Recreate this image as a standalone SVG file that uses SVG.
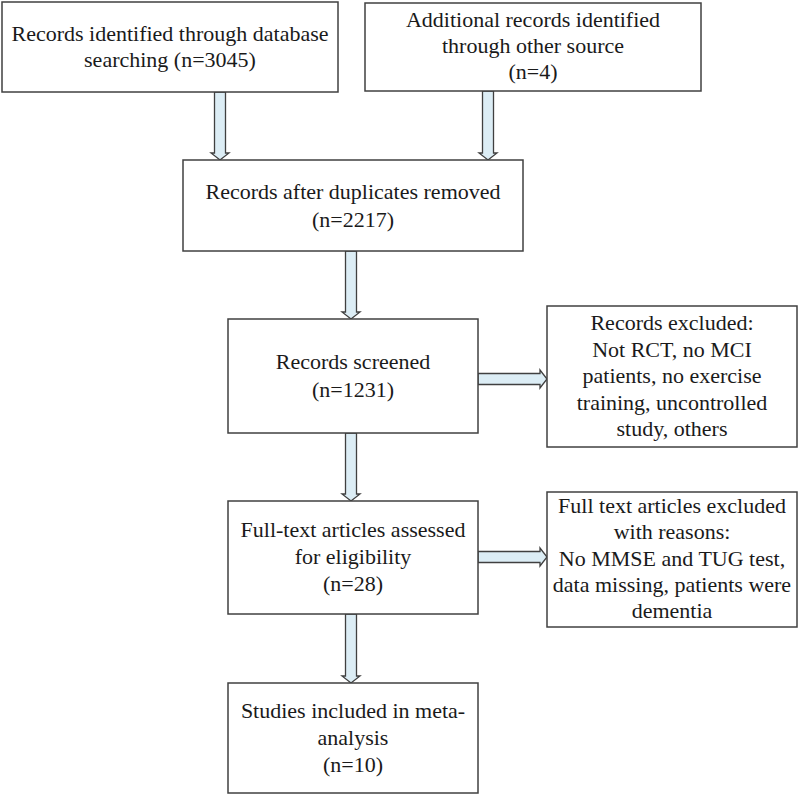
<svg xmlns="http://www.w3.org/2000/svg" width="800" height="795" viewBox="0 0 800 795">
<style>
.box{fill:#ffffff;stroke:#404040;stroke-width:1.5}
.arr{fill:#dcedf5;stroke:#404040;stroke-width:1.3;stroke-linejoin:miter}
text{font-family:"Liberation Serif","Times New Roman",serif;font-size:22px;fill:#1a1a1a;text-anchor:middle}
</style>
<rect width="800" height="795" fill="#ffffff"/>
<g id="connectors">
<polygon class="arr" points="214.5,92 225.5,92 225.5,153 229,153 220,160 211,153 214.5,153"/>
<polygon class="arr" points="482.5,91 493.5,91 493.5,153 497,153 488,160 479,153 482.5,153"/>
<polygon class="arr" points="345.5,251 356.5,251 356.5,312 360,312 351,319 342,312 345.5,312"/>
<polygon class="arr" points="345.5,433 356.5,433 356.5,494 360,494 351,501 342,494 345.5,494"/>
<polygon class="arr" points="345.5,614 356.5,614 356.5,676 360,676 351,683 342,676 345.5,676"/>
<polygon class="arr" points="478,373.5 540,373.5 540,370 547,379 540,388 540,384.5 478,384.5"/>
<polygon class="arr" points="478,551.5 540,551.5 540,548 547,557 540,566 540,562.5 478,562.5"/>
</g>
<g id="n1">
<rect class="box" x="2" y="2" width="336" height="90"/>
<text x="170" y="41">Records identified through database</text>
<text x="170" y="67">searching (n=3045)</text>
</g>
<g id="n2">
<rect class="box" x="365" y="3" width="336" height="88"/>
<text x="533" y="27">Additional records identified</text>
<text x="533" y="53">through other source</text>
<text x="533" y="79">(n=4)</text>
</g>
<g id="n3">
<rect class="box" x="183" y="160" width="340" height="91"/>
<text x="353" y="199">Records after duplicates removed</text>
<text x="353" y="227">(n=2217)</text>
</g>
<g id="n4">
<rect class="box" x="228" y="319" width="250" height="114"/>
<text x="353" y="369">Records screened</text>
<text x="353" y="397">(n=1231)</text>
</g>
<g id="n5">
<rect class="box" x="547" y="306" width="250" height="141"/>
<text x="672" y="330">Records excluded:</text>
<text x="672" y="357">Not RCT, no MCI</text>
<text x="672" y="383">patients, no exercise</text>
<text x="672" y="410">training, uncontrolled</text>
<text x="672" y="436">study, others</text>
</g>
<g id="n6">
<rect class="box" x="228" y="501" width="250" height="113"/>
<text x="353" y="537">Full-text articles assessed</text>
<text x="353" y="564">for eligibility</text>
<text x="353" y="591">(n=28)</text>
</g>
<g id="n7">
<rect class="box" x="547" y="492" width="250" height="135"/>
<text x="672" y="513">Full text articles excluded</text>
<text x="672" y="539">with reasons:</text>
<text x="672" y="566">No MMSE and TUG test,</text>
<text x="672" y="592">data missing, patients were</text>
<text x="672" y="618">dementia</text>
</g>
<g id="n8">
<rect class="box" x="228" y="683" width="250" height="110"/>
<text x="353" y="718">Studies included in meta-</text>
<text x="353" y="745">analysis</text>
<text x="353" y="772">(n=10)</text>
</g>
</svg>
